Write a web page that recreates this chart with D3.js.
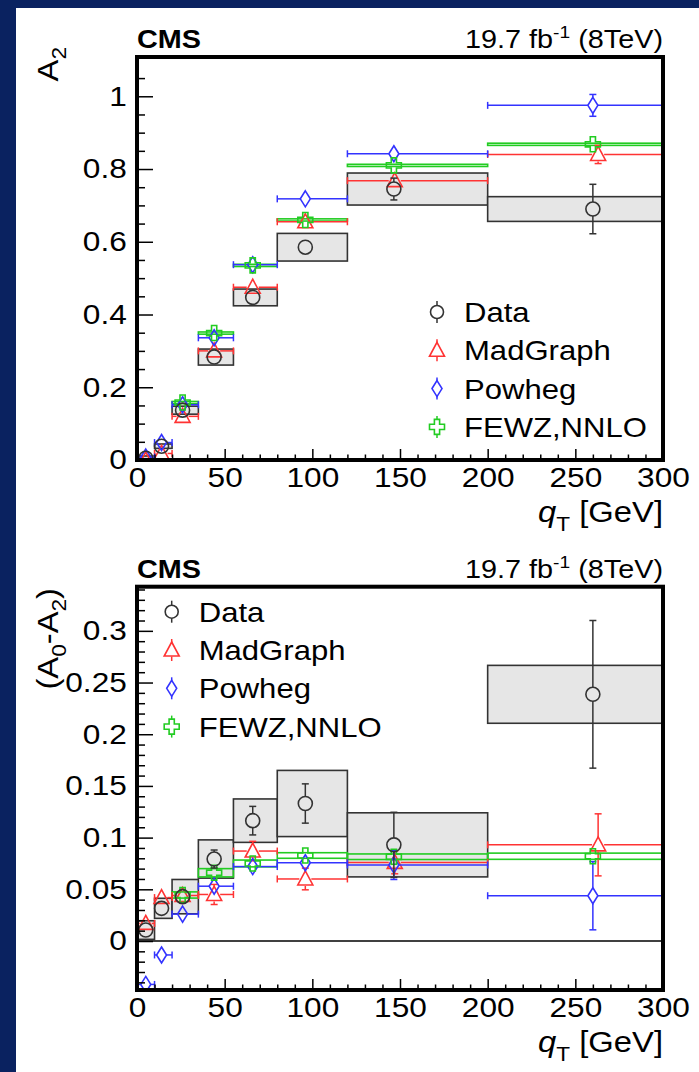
<!DOCTYPE html>
<html><head><meta charset="utf-8">
<script src="https://cdn.jsdelivr.net/npm/d3@7"></script>
<style>html,body{margin:0;padding:0;background:#0a2260;} svg{display:block}</style>
</head><body>
<svg id="c" width="699" height="1072"></svg>
<script>
// ---------------- data ----------------
const binLo = [0, 10, 20, 35, 55, 80, 120, 200];
const binHi = [10, 20, 35, 55, 80, 120, 200, 300];
const xMean = [5, 14, 26, 44, 66, 96, 146.5, 260];
const xMeanMG = [5, 14, 26, 44, 66, 96, 147, 263];

// top panel: A2
const a2Data = [0.005, 0.038, 0.137, 0.283, 0.447, 0.585, 0.745, 0.690];
const a2Stat = [0.003, 0.004, 0.006, 0.008, 0.008, 0.010, 0.030, 0.068];
const a2Syst = [0.006, 0.006, 0.011, 0.022, 0.023, 0.038, 0.044, 0.034];
const a2MG = [0.000, 0.018, 0.120, 0.300, 0.475, 0.655, 0.768, 0.840];
const a2MGErr = [0.003, 0.004, 0.005, 0.006, 0.006, 0.008, 0.012, 0.025];
const a2Pow = [0.008, 0.048, 0.152, 0.336, 0.537, 0.718, 0.842, 0.975];
const a2PowErr = [0.003, 0.003, 0.004, 0.006, 0.006, 0.007, 0.010, 0.030];
const a2FEWZ = [null, null, 0.158, 0.349, 0.535, 0.660, 0.810, 0.868];
const a2FEWZErr = [null, null, 0.003, 0.003, 0.003, 0.003, 0.003, 0.003];

// bottom panel: A0 - A2
const dData = [0.0106, 0.0316, 0.0429, 0.0793, 0.1164, 0.1330, 0.0930, 0.2386];
const dStat = [0.004, 0.004, 0.005, 0.0087, 0.0138, 0.019, 0.0315, 0.0714];
const dSyst = [0.009, 0.0097, 0.0166, 0.0185, 0.021, 0.032, 0.031, 0.028];
const dMG = [0.017, 0.042, 0.044, 0.045, 0.087, 0.060, 0.076, 0.093];
const dMGErr = [0.004, 0.005, 0.005, 0.0097, 0.0094, 0.0105, 0.011, 0.030];
const dPow = [-0.042, -0.0135, 0.026, 0.053, 0.072, 0.0757, 0.0735, 0.0438];
const dPowErr = [0.002, 0.002, 0.003, 0.004, 0.007, 0.0045, 0.014, 0.033];
const dFEWZ = [null, null, 0.0445, 0.066, 0.075, 0.0827, 0.0815, 0.082];
const dFEWZErr = [null, null, 0.003, 0.004, 0.0033, 0.0027, 0.0027, 0.003];

const xTicks = [0, 50, 100, 150, 200, 250, 300];
const topYTicks = [0, 0.2, 0.4, 0.6, 0.8, 1];
const botYTicks = [0, 0.05, 0.1, 0.15, 0.2, 0.25, 0.3];
const legendLabels = ["Data", "MadGraph", "Powheg", "FEWZ,NNLO"];
const headerLeft = "CMS";

// ---------------- style ----------------
const SX = 1.13;
const FONT = "'Liberation Sans', Arial, Helvetica, sans-serif";
const C_DATA = "#333333", C_MG = "#ff3333", C_POW = "#3333ff", C_FEWZ = "#22cc22";
const svg = d3.select("#c");

svg.append("rect").attr("x", 16).attr("y", 8).attr("width", 699 - 16).attr("height", 1072 - 8).attr("fill", "#ffffff");

function text(g, x, y, opts) {
  const t = g.append("text")
    .attr("transform", `translate(${x},${y})` + (opts.rotate ? ` rotate(${opts.rotate})` : "") + ` scale(${SX},1)`)
    .attr("font-family", FONT)
    .attr("font-size", opts.size)
    .attr("font-weight", opts.bold ? "bold" : "normal")
    .attr("font-style", opts.italic ? "italic" : "normal")
    .attr("text-anchor", opts.anchor || "start")
    .attr("fill", "#000");
  return t;
}

// marker shapes
function marker(g, type, cx, cy, color) {
  if (type === "circle") {
    g.append("circle").attr("cx", cx).attr("cy", cy).attr("r", 7)
      .attr("fill", "none").attr("stroke", color).attr("stroke-width", 1.6);
  } else if (type === "tri") {
    g.append("path").attr("d", `M${cx},${cy - 8} L${cx + 7.5},${cy + 6} L${cx - 7.5},${cy + 6} Z`)
      .attr("fill", "none").attr("stroke", color).attr("stroke-width", 1.6);
  } else if (type === "diamond") {
    g.append("path").attr("d", `M${cx},${cy - 8} L${cx + 5},${cy} L${cx},${cy + 8} L${cx - 5},${cy} Z`)
      .attr("fill", "none").attr("stroke", color).attr("stroke-width", 1.6);
  } else if (type === "cross") {
    const a = 7.5, b = 2.6;
    g.append("path").attr("d",
      `M${cx - b},${cy - a} L${cx + b},${cy - a} L${cx + b},${cy - b} L${cx + a},${cy - b} L${cx + a},${cy + b} L${cx + b},${cy + b} L${cx + b},${cy + a} L${cx - b},${cy + a} L${cx - b},${cy + b} L${cx - a},${cy + b} L${cx - a},${cy - b} L${cx - b},${cy - b} Z`)
      .attr("fill", "none").attr("stroke", color).attr("stroke-width", 1.6);
  }
}
const gapOf = { circle: 7, tri: 7, diamond: 8, cross: 7.5 };
const hgapOf = { circle: 7, tri: 6, diamond: 5, cross: 7.5 };

function line(g, x1, y1, x2, y2, color, w) {
  g.append("line").attr("x1", x1).attr("y1", y1).attr("x2", x2).attr("y2", y2)
    .attr("stroke", color).attr("stroke-width", w || 1.5);
}

function vErr(g, cx, yTop, yBot, yc, gap, color) {
  if (yTop < yc - gap) { line(g, cx, yTop, cx, yc - gap, color); line(g, cx - 3.5, yTop, cx + 3.5, yTop, color); }
  if (yBot > yc + gap) { line(g, cx, yc + gap, cx, yBot, color); line(g, cx - 3.5, yBot, cx + 3.5, yBot, color); }
}
function hErr(g, xL, xR, xc, yc, gap, color) {
  if (xL < xc - gap) line(g, xL, yc, xc - gap, yc, color);
  if (xR > xc + gap) line(g, xc + gap, yc, xR, yc, color);
  line(g, xL, yc - 3.5, xL, yc + 3.5, color);
  line(g, xR, yc - 3.5, xR, yc + 3.5, color);
}

function drawPanel(cfg) {
  const x = d3.scaleLinear().domain([0, 300]).range([137, 663]);
  const y = d3.scaleLinear().domain(cfg.yDomain).range([cfg.bottom, cfg.top]);
  const g = svg.append("g");
  const clipId = "clip" + cfg.id;
  svg.append("clipPath").attr("id", clipId).append("rect")
    .attr("x", 137).attr("y", cfg.top).attr("width", 526).attr("height", cfg.bottom - cfg.top);
  const pg = g.append("g").attr("clip-path", `url(#${clipId})`);

  // data syst boxes
  binLo.forEach((lo, i) => {
    pg.append("rect").attr("x", x(lo)).attr("width", x(binHi[i]) - x(lo))
      .attr("y", y(cfg.data[i] + cfg.syst[i])).attr("height", y(cfg.data[i] - cfg.syst[i]) - y(cfg.data[i] + cfg.syst[i]))
      .attr("fill", "#e6e6e6").attr("stroke", C_DATA).attr("stroke-width", 1.6);
  });
  if (cfg.zeroLine) line(pg, 137, y(0), 663, y(0), "#000", 1.6);

  // FEWZ bands
  binLo.forEach((lo, i) => {
    const v = cfg.fewz[i]; if (v === null) return;
    const e = cfg.fewzErr[i];
    pg.append("rect").attr("x", x(lo)).attr("width", x(binHi[i]) - x(lo))
      .attr("y", y(v + e)).attr("height", Math.max(y(v - e) - y(v + e), 1.5))
      .attr("fill", "none").attr("stroke", C_FEWZ).attr("stroke-width", 1.6);
  });
  // MadGraph
  binLo.forEach((lo, i) => {
    const v = cfg.mg[i], e = cfg.mgErr[i], cx = x(xMeanMG[i]), cy = y(v);
    hErr(pg, x(lo), x(binHi[i]), cx, cy, hgapOf.tri, C_MG);
    vErr(pg, cx, y(v + e), y(v - e), cy, gapOf.tri, C_MG);
    marker(pg, "tri", cx, cy, C_MG);
  });
  // Powheg
  binLo.forEach((lo, i) => {
    const v = cfg.pow[i], e = cfg.powErr[i], cx = x(xMean[i]), cy = y(v);
    hErr(pg, x(lo), x(binHi[i]), cx, cy, hgapOf.diamond, C_POW);
    vErr(pg, cx, y(v + e), y(v - e), cy, gapOf.diamond, C_POW);
    marker(pg, "diamond", cx, cy, C_POW);
  });
  // FEWZ markers
  binLo.forEach((lo, i) => {
    const v = cfg.fewz[i]; if (v === null) return;
    marker(pg, "cross", x(xMean[i]), y(v), C_FEWZ);
  });
  // Data
  binLo.forEach((lo, i) => {
    const v = cfg.data[i], e = cfg.stat[i], cx = x(xMean[i]), cy = y(v);
    vErr(pg, cx, y(v + e), y(v - e), cy, gapOf.circle, C_DATA);
    marker(pg, "circle", cx, cy, C_DATA);
  });

  // axes
  const xAx = g.append("g").attr("transform", `translate(0,${cfg.bottom})`)
    .call(d3.axisBottom(x).tickValues(xTicks).tickSizeInner(-11).tickSizeOuter(0).tickPadding(7).tickFormat(d3.format("d")));
  g.append("g").attr("transform", `translate(0,${cfg.bottom})`)
    .call(d3.axisBottom(x).tickValues(d3.range(0, 301, 10).filter(v => v % 50)).tickSizeInner(-5.5).tickSizeOuter(0).tickFormat(""));
  const yAx = g.append("g").attr("transform", `translate(137,0)`)
    .call(d3.axisLeft(y).tickValues(cfg.yTicks).tickSizeInner(-16).tickSizeOuter(0).tickPadding(9).tickFormat(cfg.fmt));
  g.append("g").attr("transform", `translate(137,0)`)
    .call(d3.axisLeft(y).tickValues(cfg.yMinor).tickSizeInner(-8).tickSizeOuter(0).tickFormat(""));
  g.selectAll(".domain").remove();
  g.selectAll(".tick line").attr("stroke", "#000").attr("stroke-width", 1.5);
  [xAx, yAx].forEach(a => a.selectAll("text")
    .attr("font-family", FONT).attr("font-size", 28).attr("fill", "#000")
    .attr("transform", `scale(${SX},1)`));
  xAx.selectAll("text").attr("dy", "0.72em");

  // frame
  g.append("rect").attr("x", 137).attr("y", cfg.top).attr("width", 526).attr("height", cfg.bottom - cfg.top)
    .attr("fill", "none").attr("stroke", "#000").attr("stroke-width", 4);

  // header
  text(g, 137, cfg.top - 9, { size: 25.5, bold: true }).text(headerLeft);
  const hr = text(g, 663, cfg.top - 9, { size: 25.5, anchor: "end" });
  hr.append("tspan").text("19.7 fb");
  hr.append("tspan").attr("font-size", 17).attr("dy", -10).text("-1");
  hr.append("tspan").attr("dy", 10).text(" (8TeV)");

  // x title
  const xt = text(g, 663, cfg.bottom + 62, { size: 29, anchor: "end" });
  xt.append("tspan").attr("font-style", "italic").text("q");
  xt.append("tspan").attr("font-size", 20).attr("dy", 9).text("T");
  xt.append("tspan").attr("dy", -9).text(" [GeV]");

  // y title
  const yt = text(g, 58, cfg.yTitleEnd, { size: 29, anchor: "end", rotate: -90 });
  cfg.yTitle(yt);

  // legend
  const types = ["circle", "tri", "diamond", "cross"];
  const cols = [C_DATA, C_MG, C_POW, C_FEWZ];
  legendLabels.forEach((lab, i) => {
    const cy = cfg.legY + i * 38.3, cx = cfg.legX;
    if (i < 3) { line(g, cx, cy - 11, cx, cy - 6.5, cols[i]); line(g, cx, cy + 6.5, cx, cy + 11, cols[i]); }
    else { line(g, cx, cy - 11, cx, cy - 7.5, cols[i]); line(g, cx, cy + 7.5, cx, cy + 11, cols[i]); }
    const lg = g.append("g");
    if (types[i] === "circle") lg.append("circle").attr("cx", cx).attr("cy", cy).attr("r", 6.5).attr("fill", "none").attr("stroke", cols[i]).attr("stroke-width", 1.6);
    else marker(lg, types[i], cx, cy, cols[i]);
    text(g, cfg.legX + 27, cy + 10, { size: 27.5 }).text(lab);
  });
}

drawPanel({
  id: "top", top: 57, bottom: 460, yDomain: [0, 1.108],
  yTicks: topYTicks, yMinor: d3.range(0, 22).map(k => k * 0.05).filter((v, k) => k % 4 !== 0),
  fmt: d => d === 0 ? "0" : d === 1 ? "1" : d3.format(".1f")(d),
  data: a2Data, stat: a2Stat, syst: a2Syst, mg: a2MG, mgErr: a2MGErr, pow: a2Pow, powErr: a2PowErr,
  fewz: a2FEWZ, fewzErr: a2FEWZErr, zeroLine: false,
  legX: 437, legY: 312, yTitleEnd: 47,
  yTitle: t => { t.append("tspan").text("A"); t.append("tspan").attr("font-size", 20).attr("dy", 8).text("2"); }
});

drawPanel({
  id: "bot", top: 586.7, bottom: 990, yDomain: [-0.0474, 0.3427],
  yTicks: botYTicks, yMinor: d3.range(-4, 35).map(k => k * 0.01).filter(v => Math.abs(Math.round(v * 100) % 5) !== 0),
  fmt: d => d === 0 ? "0" : String(+d.toFixed(2)),
  data: dData, stat: dStat, syst: dSyst, mg: dMG, mgErr: dMGErr, pow: dPow, powErr: dPowErr,
  fewz: dFEWZ, fewzErr: dFEWZErr, zeroLine: true,
  legX: 171.7, legY: 611.7, yTitleEnd: 588,
  yTitle: t => {
    t.append("tspan").text("(A");
    t.append("tspan").attr("font-size", 20).attr("dy", 8).text("0");
    t.append("tspan").attr("dy", -8).text("-A");
    t.append("tspan").attr("font-size", 20).attr("dy", 8).text("2");
    t.append("tspan").attr("dy", -8).text(")");
  }
});
</script>
</body></html>
